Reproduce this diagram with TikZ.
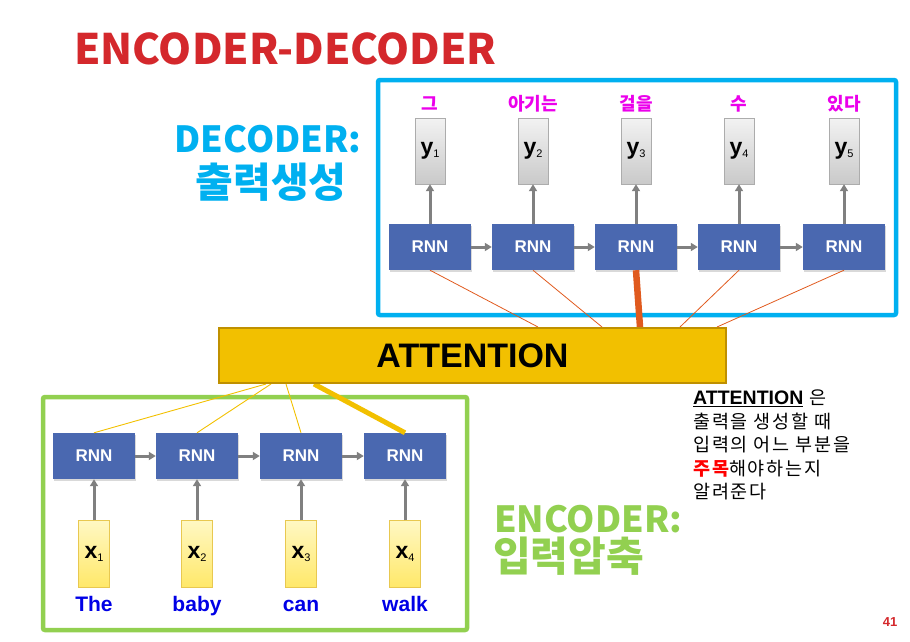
\documentclass[tikz,border=0pt]{standalone}
\usepackage{fontspec}
\setmainfont{Liberation Sans}
\newfontfamily\krfont{Noto Sans CJK KR}
\newfontfamily\notefont[LetterSpace=10]{Noto Sans CJK KR}
\usepackage{tikz}
\usetikzlibrary{arrows.meta, shadows}

\definecolor{rnnblue}{RGB}{74,104,176}
\definecolor{decblue}{RGB}{0,176,240}
\definecolor{encgreen}{RGB}{146,208,80}
\definecolor{attyellow}{RGB}{242,192,0}
\definecolor{attborder}{RGB}{191,144,0}
\definecolor{titlered}{RGB}{212,40,44}
\definecolor{linkorange}{RGB}{224,90,30}
\definecolor{arrgray}{RGB}{128,128,128}
\definecolor{wordblue}{RGB}{0,0,230}
\definecolor{wordmag}{RGB}{235,0,235}
\definecolor{inlight}{RGB}{255,248,195}
\definecolor{indark}{RGB}{255,232,105}
\definecolor{inedge}{RGB}{232,200,80}

\newcommand{\fsz}[1]{\fontsize{#1}{#1}\selectfont}
\newcommand{\lowidx}[1]{\raisebox{-3pt}{\normalfont\fsz{11}#1}}

\begin{document}
\begin{tikzpicture}[x=1pt, y=-1pt, >={Triangle[length=7pt, width=8pt]},
	rnn/.style={fill=rnnblue, minimum width=82pt, minimum height=46pt, inner sep=0pt,
		text=white, font=\fsz{17}\bfseries,
		drop shadow={shadow xshift=1.2pt, shadow yshift=-1.5pt, opacity=0.3}},
	outbox/.style={draw=gray!65, top color=gray!10, bottom color=gray!42,
		minimum width=30pt, minimum height=66pt, inner sep=0pt, font=\fsz{23}\bfseries},
	inbox/.style={draw=inedge, top color=inlight, bottom color=indark,
		minimum width=31pt, minimum height=67pt, inner sep=0pt, font=\fsz{23}\bfseries},
	flow/.style={->, arrgray, line width=3pt},
	link/.style={linkorange, line width=0.8pt},
	pull/.style={attyellow, line width=0.9pt}]
	\useasboundingbox (0,0) rectangle (910,642);

	% frames
	\draw[decblue, line width=4.5pt, rounded corners=2pt] (378,80) rectangle (896,315);
	\draw[encgreen, line width=4.5pt, rounded corners=2pt] (43,397) rectangle (467,630);

	% titles
	\node[anchor=base west, inner sep=0pt, text=titlered, font=\krfont\bfseries\fsz{42}] (title) at (74,65) {ENCODER-DECODER};
	\node[anchor=base, inner sep=0pt, text=decblue, font=\krfont\bfseries\fsz{36}] (dectop) at (268,152) {DECODER:};
	\node[anchor=base, inner sep=0pt, text=decblue, font=\krfont\bfseries\fsz{41}] (decbot) at (271,197) {출력생성};
	\node[anchor=base west, inner sep=0pt, text=encgreen, font=\krfont\bfseries\fsz{36}] (enctop) at (494,532) {ENCODER:};
	\node[anchor=base west, inner sep=0pt, text=encgreen, font=\krfont\bfseries\fsz{41}] (encbot) at (493,571) {입력압축};

	% decoder
	\foreach \i/\px/\w in {1/430/그, 2/533/아기는, 3/636/걸을, 4/739/수, 5/844/있다} {
		\node[rnn] (d\i) at (\px,247) {RNN};
		\node[outbox] (y\i) at (\px,151) {y\lowidx{\i}};
		\node[text=wordmag, font=\krfont\bfseries\fsz{18}] (w\i) at (\px,104) {\w};
		\draw[flow] (d\i) -- (y\i);
	}
	\foreach \i/\j in {1/2, 2/3, 3/4, 4/5}
		\draw[flow] (d\i) -- (d\j);

	% encoder
	\foreach \i/\px/\w in {1/94/The, 2/197/baby, 3/301/can, 4/405/walk} {
		\node[rnn] (e\i) at (\px,456) {RNN};
		\node[inbox] (x\i) at (\px,554) {x\lowidx{\i}};
		\node[anchor=base, text=wordblue, font=\bfseries\fsz{21}] (t\i) at (\px,611) {\w};
		\draw[flow] (x\i) -- (e\i);
	}
	\foreach \i/\j in {1/2, 2/3, 3/4}
		\draw[flow] (e\i) -- (e\j);

	% attention weights
	\coordinate (ta1) at (538,327);
	\coordinate (ta2) at (602,327);
	\coordinate (ta3) at (640,327);
	\coordinate (ta4) at (680,327);
	\coordinate (ta5) at (717,327);
	\foreach \i in {1, 2, 4, 5}
		\draw[link] (d\i.south) -- (ta\i);
	\draw[link, line width=6.5pt] (d3.south) -- (ta3);

	\coordinate (ba1) at (266,384);
	\coordinate (ba2) at (271,384);
	\coordinate (ba3) at (286,384);
	\coordinate (ba4) at (314,384);
	\foreach \i in {1, 2, 3}
		\draw[pull] (ba\i) -- (e\i.north);
	\draw[attyellow, line width=5pt] (ba4) -- (e4.north);

	\node[draw=attborder, line width=2pt, fill=attyellow, minimum width=507pt, minimum height=55pt,
		font=\bfseries\fsz{34}] (att) at (472.5,355.5) {ATTENTION};

	% note
	\node[anchor=north west, align=left, inner sep=0pt, font=\notefont\fontsize{18.5}{23.5}\selectfont] (note) at (693,390)
		{\underline{\normalfont\bfseries\fsz{19.5}ATTENTION} 은\\
		출력을 생성할 때\\
		입력의 어느 부분을\\
		{\color{red}\bfseries 주목}해야하는지\\
		알려준다};

	\node[text=titlered, font=\bfseries\fsz{13}] (page) at (890,622) {41};
\end{tikzpicture}
\end{document}
